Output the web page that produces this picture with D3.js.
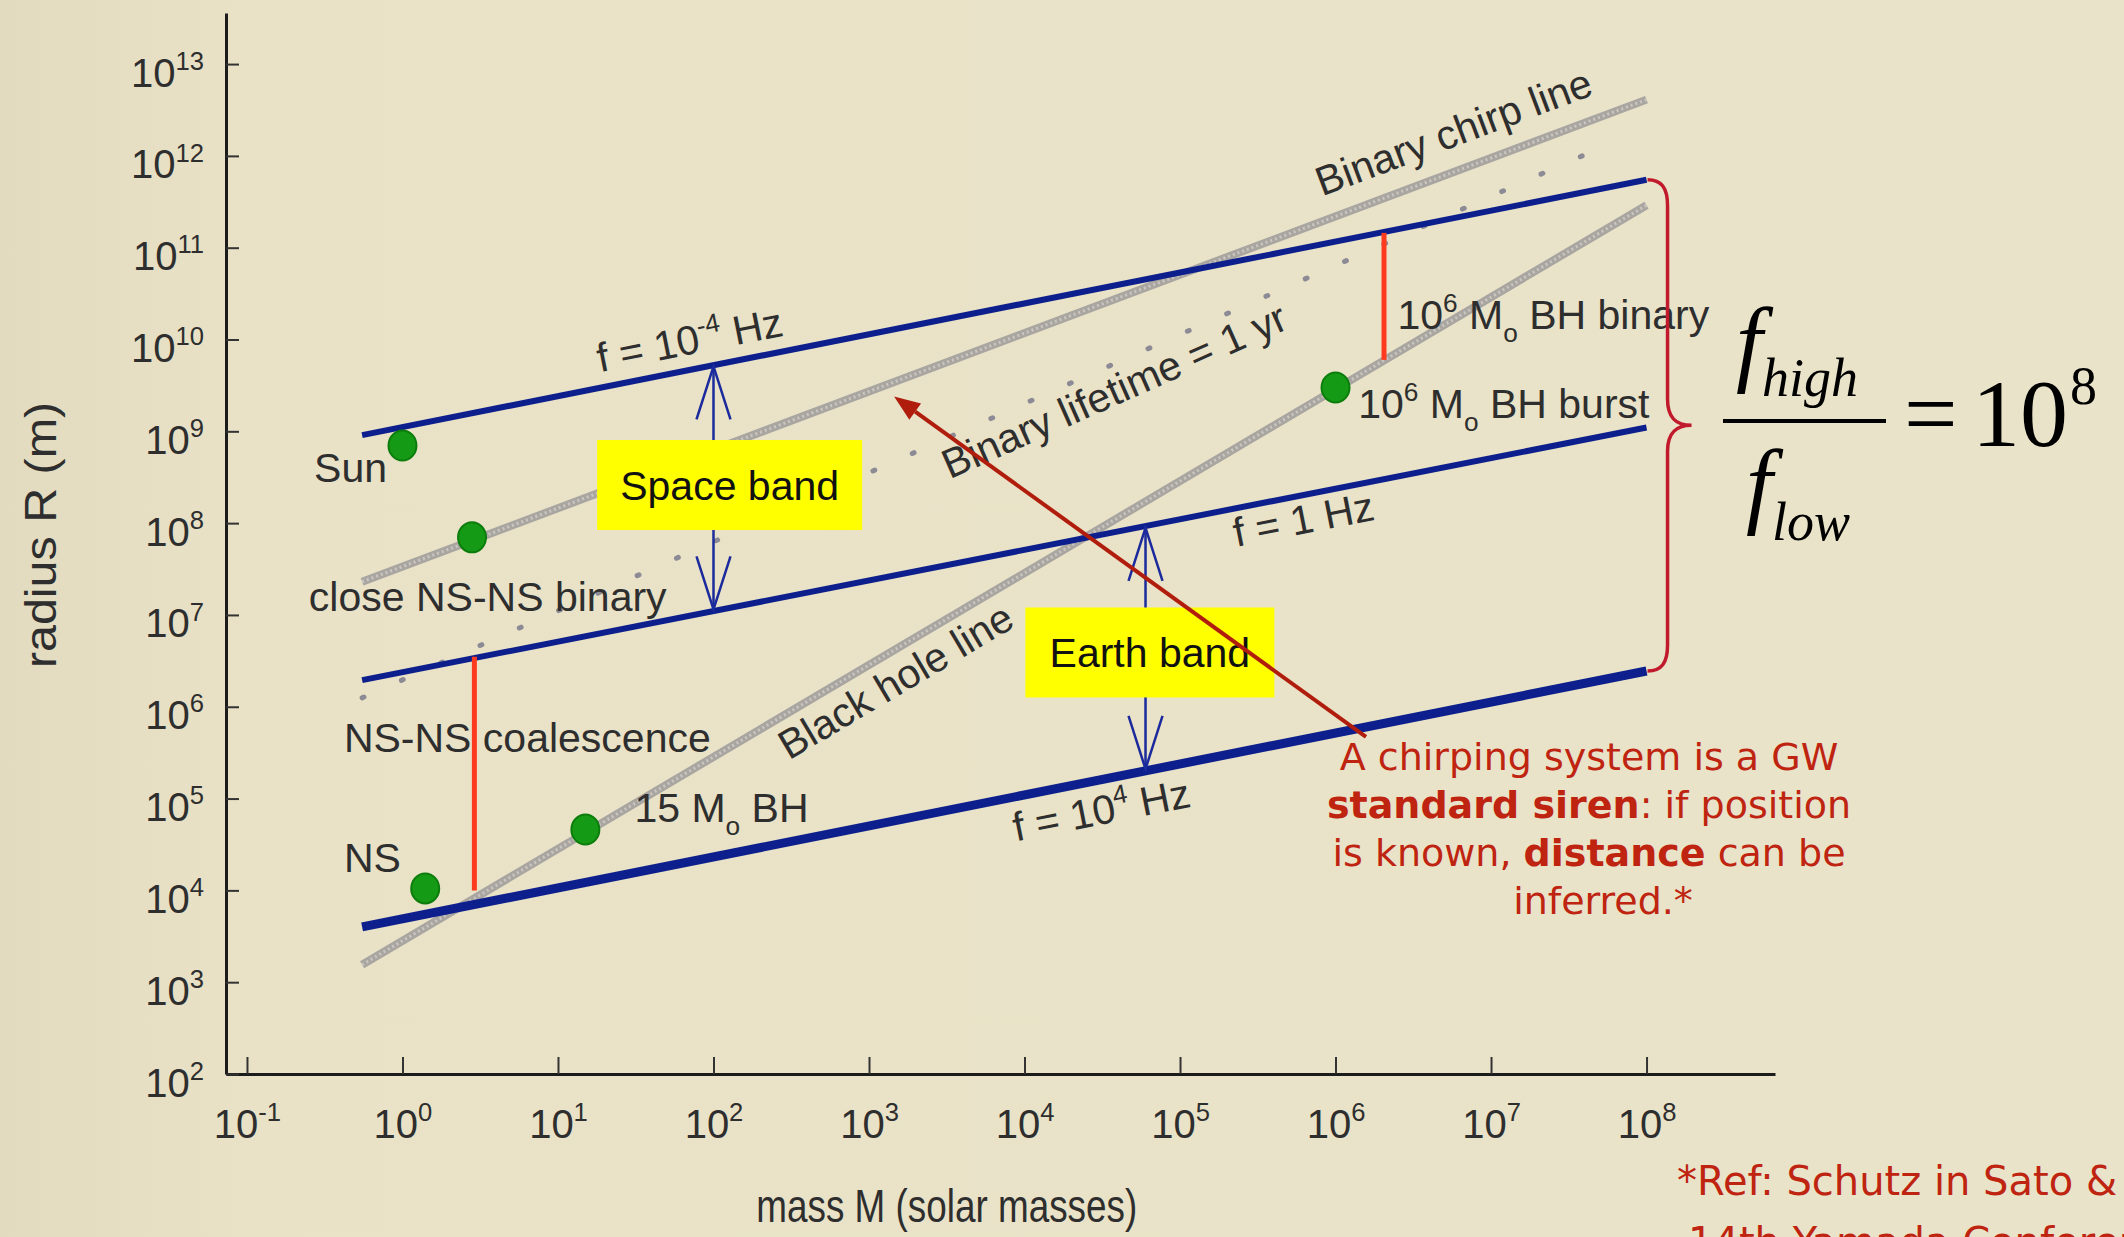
<!DOCTYPE html>
<html>
<head>
<meta charset="utf-8">
<script src="https://cdn.jsdelivr.net/npm/d3@7"></script>
<style>
  html, body { margin: 0; padding: 0; background: #e8e1c6; }
  svg { display: block; }
</style>
</head>
<body>
<svg id="chart" width="2124" height="1237"></svg>
<script>
// Gravitational-wave sources in the mass–radius plane (log–log)

// ---- axis ticks ----
const massTickExps = [-1, 0, 1, 2, 3, 4, 5, 6, 7, 8];
const radiusTickExps = [2, 3, 4, 5, 6, 7, 8, 9, 10, 11, 12, 13];

// ---- lines of constant GW frequency: [mass, radius] endpoints ----
const freqLow = [[0.55, 9.1e8], [1e8, 5.5e11]];     // f = 1e-4 Hz
const freqMid = [[0.55, 1.95e6], [1e8, 1.1e9]];     // f = 1 Hz
const freqHigh = [[0.55, 4.0e3], [1e8, 2.45e6]];    // f = 1e4 Hz

// ---- other reference lines ----
const blackHoleLine = [[0.55, 1.55e3], [1e8, 2.9e11]];
const chirpLine = [[0.55, 2.3e7], [1e8, 4.1e12]];
const lifetimeLine = [[0.55, 1.25e6], [6.6e7, 1.5e12]];

// ---- sources (mass in solar masses, radius in m) ----
const sourceMass = [1, 2.8, 1.4, 15, 1e6];
const sourceRadius = [7e8, 7e7, 1.05e4, 4.6e4, 3.0e9];

// ---- red spans: system evolving between two frequencies ----
const spanMass = [2.9, 2.05e6];
const spanRadius = [[1e4, 3.5e6], [6e9, 1.45e11]];

// ---- detector band arrows ----
const bandNames = ["Space band", "Earth band"];
const bandMass = [100, 6e4];
const bandRadius = [[5.1e9, 1.15e7], [8.9e7, 2.1e5]];
const bandBoxCenter = [[127, 2.6e8], [6.4e4, 3.9e6]];

// ---- annotation arrow ----
const pointerFrom = [1.57e6, 4.7e5];
const pointerTo = [1.45e3, 2.4e9];

const svg = d3.select("#chart");
const W = 2124, H = 1237;

// background
const defs = svg.append("defs");
const bg = defs.append("linearGradient").attr("id", "bg").attr("x1", 0).attr("x2", 1).attr("y1", 0).attr("y2", 0);
bg.append("stop").attr("offset", 0).attr("stop-color", "#e2dbbf");
bg.append("stop").attr("offset", 0.12).attr("stop-color", "#e9e2c7");
bg.append("stop").attr("offset", 1).attr("stop-color", "#e9e3c9");
svg.append("rect").attr("width", W).attr("height", H).attr("fill", "url(#bg)");

// scales: axes cross slightly outside the first decade
const x = d3.scaleLog().domain([0.0733, 6.7e8]).range([226, 1775]);
const y = d3.scaleLog().domain([1e2, 3.6e13]).range([1074, 13]);

const FONT = "'Liberation Sans', Arial, Helvetica, sans-serif";
const INK = "#2e2e2e";

// rich text: segments of {t, sup, sub, bold}
function richText(sel, segs, size, supScale = 0.64) {
  let cur = 0;
  segs.forEach(s => {
    const off = s.sup ? -0.42 * size : s.sub ? 0.32 * size : 0;
    sel.append("tspan")
      .attr("dy", off - cur)
      .attr("font-size", (s.sup || s.sub) ? size * supScale : size)
      .attr("font-weight", s.bold ? "bold" : null)
      .text(s.t);
    cur = off;
  });
  return sel;
}

// ---- axes ----
const xAxis = d3.axisBottom(x)
  .tickValues(massTickExps.map(e => Math.pow(10, e)))
  .tickSizeInner(-17).tickSizeOuter(0).tickFormat("");
const yAxis = d3.axisLeft(y)
  .tickValues(radiusTickExps.map(e => Math.pow(10, e)))
  .tickSizeInner(-13).tickSizeOuter(0).tickFormat("");

const gx = svg.append("g").attr("transform", `translate(0,${y(1e2)})`).call(xAxis);
const gy = svg.append("g").attr("transform", `translate(${x.range()[0]},0)`).call(yAxis);
[gx, gy].forEach(g => {
  g.select(".domain").attr("stroke", "#1c1c1c").attr("stroke-width", 3);
  g.selectAll(".tick line").attr("stroke", "#333").attr("stroke-width", 2);
});

gx.selectAll(".tick").each(function (d, i) {
  const t = d3.select(this).append("text")
    .attr("y", 64).attr("x", 0)
    .attr("text-anchor", "middle")
    .attr("font-family", FONT).attr("fill", INK)
    .attr("font-size", 40);
  richText(t, [{ t: "10" }, { t: String(massTickExps[i]), sup: true }], 40);
});
gy.selectAll(".tick").each(function (d, i) {
  const t = d3.select(this).append("text")
    .attr("y", 22).attr("x", -22)
    .attr("text-anchor", "end")
    .attr("font-family", FONT).attr("fill", INK)
    .attr("font-size", 40);
  richText(t, [{ t: "10" }, { t: String(radiusTickExps[i]), sup: true }], 40);
});

// axis titles
svg.append("text")
  .attr("transform", `translate(${x(Math.pow(10, 3.5))},1222) scale(0.97,1.22)`)
  .attr("text-anchor", "middle")
  .attr("font-family", FONT).attr("font-size", 38).attr("fill", INK)
  .text("mass M (solar masses)");
svg.append("text")
  .attr("transform", "translate(56,535) rotate(-90) scale(1.1,1)")
  .attr("text-anchor", "middle")
  .attr("font-family", FONT).attr("font-size", 44).attr("fill", INK)
  .text("radius R (m)");

const line = d3.line().x(d => x(d[0])).y(d => y(d[1]));
const plot = svg.append("g");

// grey reference lines with a fine halftone texture
[chirpLine, blackHoleLine].forEach(pts => {
  plot.append("path").attr("d", line(pts)).attr("fill", "none")
    .attr("stroke", "#a9a5a1").attr("stroke-width", 8);
  plot.append("path").attr("d", line(pts)).attr("fill", "none")
    .attr("stroke", "#cbc6bf").attr("stroke-width", 3)
    .attr("stroke-dasharray", "2 3");
});

// binary lifetime = 1 yr (dotted)
plot.append("path").attr("d", line(lifetimeLine)).attr("fill", "none")
  .attr("stroke", "#8c8b95").attr("stroke-width", 5)
  .attr("stroke-linecap", "round").attr("stroke-dasharray", "2 41");

// constant-frequency lines
[[freqLow, 6], [freqMid, 6], [freqHigh, 9]].forEach(([pts, w]) => {
  plot.append("path").attr("d", line(pts)).attr("fill", "none")
    .attr("stroke", "#0d1f8c").attr("stroke-width", w);
});

// red spans
spanMass.forEach((m, i) => {
  plot.append("line")
    .attr("x1", x(m)).attr("x2", x(m))
    .attr("y1", y(spanRadius[i][0])).attr("y2", y(spanRadius[i][1]))
    .attr("stroke", "#ff3b1f").attr("stroke-width", 5);
});

// band arrows (open heads at both ends) and yellow labels
bandMass.forEach((m, i) => {
  const bx = x(m), y1 = y(bandRadius[i][0]), y2 = y(bandRadius[i][1]);
  const g = plot.append("g").attr("stroke", "#1b2a9c").attr("stroke-width", 2.5).attr("fill", "none");
  g.append("line").attr("x1", bx).attr("x2", bx).attr("y1", y1).attr("y2", y2);
  g.append("path").attr("d", `M${bx - 17},${y1 + 53} L${bx},${y1} L${bx + 17},${y1 + 53}`);
  g.append("path").attr("d", `M${bx - 17},${y2 - 53} L${bx},${y2} L${bx + 17},${y2 - 53}`);
  const cx = x(bandBoxCenter[i][0]), cy = y(bandBoxCenter[i][1]);
  const bw = i === 0 ? 265 : 249, bh = 90;
  plot.append("rect").attr("x", cx - bw / 2).attr("y", cy - bh / 2)
    .attr("width", bw).attr("height", bh).attr("fill", "#ffff00");
  plot.append("text").attr("x", cx).attr("y", cy + 15)
    .attr("text-anchor", "middle").attr("font-family", FONT)
    .attr("font-size", 41).attr("fill", "#111")
    .text(bandNames[i]);
});

// sources
sourceMass.forEach((m, i) => {
  plot.append("ellipse").attr("cx", x(m)).attr("cy", y(sourceRadius[i]))
    .attr("rx", 14).attr("ry", 15)
    .attr("fill", "#159a15").attr("stroke", "#0c7d0c").attr("stroke-width", 2);
});

// point labels, anchored at [mass, radius] of the text start
const pointLabels = [
  { at: [0.27, 2.8e8], segs: [{ t: "Sun" }] },
  { at: [0.25, 1.1e7], segs: [{ t: "close NS-NS binary" }] },
  { at: [0.42, 3.2e5], segs: [{ t: "NS-NS coalescence" }] },
  { at: [0.42, 1.6e4], segs: [{ t: "NS" }] },
  { at: [31, 5.6e4], segs: [{ t: "15 M" }, { t: "o", sub: true }, { t: " BH" }] },
  { at: [1.4e6, 1.4e9], segs: [{ t: "10" }, { t: "6", sup: true }, { t: " M" }, { t: "o", sub: true }, { t: " BH burst" }] },
  { at: [2.5e6, 1.3e10], segs: [{ t: "10" }, { t: "6", sup: true }, { t: " M" }, { t: "o", sub: true }, { t: " BH binary" }] }
];
pointLabels.forEach(l => {
  const t = plot.append("text").attr("x", x(l.at[0])).attr("y", y(l.at[1]))
    .attr("font-family", FONT).attr("font-size", 41).attr("fill", INK);
  richText(t, l.segs, 41);
});

// labels running along lines: rotation follows the line's on-screen slope
function slopeDeg(pts) {
  const a = pts[0], b = pts[pts.length - 1];
  return Math.atan2(y(b[1]) - y(a[1]), x(b[0]) - x(a[0])) * 180 / Math.PI;
}
const lineLabels = [
  { at: [18.6, 4.4e9], ref: freqLow, segs: [{ t: "f = 10" }, { t: "-4", sup: true }, { t: " Hz" }] },
  { at: [2.3e5, 5.5e7], ref: freqMid, segs: [{ t: "f = 1 Hz" }] },
  { at: [8.8e3, 3.4e4], ref: freqHigh, segs: [{ t: "f = 10" }, { t: "4", sup: true }, { t: " Hz" }] },
  { at: [8.2e5, 3.6e11], ref: chirpLine, segs: [{ t: "Binary chirp line" }] },
  { at: [3.3e3, 3.0e8], ref: lifetimeLine, segs: [{ t: "Binary lifetime = 1 yr" }] },
  { at: [306, 2.6e5], ref: blackHoleLine, segs: [{ t: "Black hole line" }] }
];
lineLabels.forEach(l => {
  const t = plot.append("text")
    .attr("transform", `translate(${x(l.at[0])},${y(l.at[1])}) rotate(${slopeDeg(l.ref)})`)
    .attr("font-family", FONT).attr("font-size", 41).attr("fill", INK);
  richText(t, l.segs, 41);
});

// annotation arrow
{
  const x1 = x(pointerFrom[0]), y1 = y(pointerFrom[1]);
  const x2 = x(pointerTo[0]), y2 = y(pointerTo[1]);
  const ang = Math.atan2(y2 - y1, x2 - x1);
  const L = 26, Wd = 10;
  const bx = x2 - L * Math.cos(ang), by = y2 - L * Math.sin(ang);
  svg.append("line").attr("x1", x1).attr("y1", y1).attr("x2", bx).attr("y2", by)
    .attr("stroke", "#b01d0d").attr("stroke-width", 4);
  svg.append("path")
    .attr("d", `M${x2},${y2} L${bx - Wd * Math.sin(ang)},${by + Wd * Math.cos(ang)} L${bx + Wd * Math.sin(ang)},${by - Wd * Math.cos(ang)} Z`)
    .attr("fill", "#b01d0d");
}

// brace spanning the frequency range at the high-mass end
{
  const x0 = x(freqLow[1][0]) + 1;
  const y0 = y(freqLow[1][1]), y1 = y(freqHigh[1][1]);
  const ym = (y0 + y1) / 2;
  const d = `M${x0},${y0} C${x0 + 14},${y0} ${x0 + 20},${y0 + 8} ${x0 + 20},${y0 + 26}
    L${x0 + 20},${ym - 26} C${x0 + 20},${ym - 8} ${x0 + 28},${ym} ${x0 + 44},${ym}
    C${x0 + 28},${ym} ${x0 + 20},${ym + 8} ${x0 + 20},${ym + 26}
    L${x0 + 20},${y1 - 26} C${x0 + 20},${y1 - 8} ${x0 + 14},${y1} ${x0},${y1}`;
  svg.append("path").attr("d", d).attr("fill", "none")
    .attr("stroke", "#c11a2c").attr("stroke-width", 3.5);
}

// frequency ratio
{
  const SERIF = "'Liberation Serif', 'Times New Roman', serif";
  const g = svg.append("g").attr("font-family", SERIF).attr("fill", "#000");
  g.append("text").attr("x", 1736).attr("y", 374).attr("font-size", 95).attr("font-style", "italic").text("f");
  g.append("text").attr("x", 1762).attr("y", 396).attr("font-size", 54).attr("font-style", "italic").text("high");
  g.append("line").attr("x1", 1723).attr("x2", 1886).attr("y1", 421).attr("y2", 421)
    .attr("stroke", "#000").attr("stroke-width", 4);
  g.append("text").attr("x", 1746).attr("y", 516).attr("font-size", 95).attr("font-style", "italic").text("f");
  g.append("text").attr("x", 1772).attr("y", 540).attr("font-size", 54).attr("font-style", "italic").text("low");
  g.append("text").attr("x", 1904).attr("y", 446).attr("font-size", 95).text("=");
  g.append("text").attr("x", 1972).attr("y", 446).attr("font-size", 96).text("10");
  g.append("text").attr("x", 2070).attr("y", 404).attr("font-size", 54).text("8");
}

// red notes
{
  const SANS = "'DejaVu Sans', 'Noto Sans', sans-serif";
  const RED = "#bf2410";
  const lines = [
    [{ t: "A chirping system is a GW" }],
    [{ t: "standard siren", bold: true }, { t: ": if position" }],
    [{ t: "is known, " }, { t: "distance", bold: true }, { t: " can be" }],
    [{ t: "inferred.*" }]
  ];
  lines.forEach((segs, i) => {
    const t = svg.append("text").attr("x", 1589 + (i === 3 ? 14 : 0)).attr("y", 770 + i * 48)
      .attr("text-anchor", "middle").attr("font-family", SANS)
      .attr("font-size", 38).attr("fill", RED);
    segs.forEach(s => t.append("tspan").attr("font-weight", s.bold ? 700 : 400).text(s.t));
  });
  svg.append("text").attr("x", 1677).attr("y", 1195)
    .attr("font-family", SANS).attr("font-size", 40).attr("fill", RED)
    .text("*Ref: Schutz in Sato &");
  svg.append("text").attr("x", 1688).attr("y", 1256)
    .attr("font-family", SANS).attr("font-size", 40).attr("fill", RED)
    .text("14th Yamada Conference");
}
</script>
</body>
</html>
